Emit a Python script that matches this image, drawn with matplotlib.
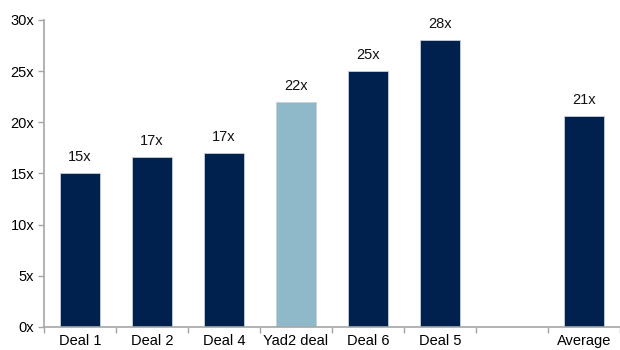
import numpy as np
import matplotlib.pyplot as plt
from matplotlib.ticker import FuncFormatter, MultipleLocator

plt.rcParams['font.family'] = ['Liberation Sans', 'DejaVu Sans']

deals = ['Deal 1', 'Deal 2', 'Deal 4', 'Yad2 deal', 'Deal 6', 'Deal 5', '', 'Average']
multiples = [15.0, 16.6, 17.0, 22.0, 25.0, 28.0, np.nan, 20.6]
highlight = 'Yad2 deal'

navy = '#00204e'
light_blue = '#8fb9c8'
axis_grey = '#a6a6a6'

fig = plt.figure(figsize=(6.2, 3.5), dpi=100)
ax = fig.add_axes([0.071, 0.066, 0.929, 0.877])

x = np.arange(len(deals))
colours = [light_blue if d == highlight else navy for d in deals]
bars = ax.bar(x, multiples, width=0.56, color=colours, edgecolor='#c8cfd8', linewidth=0.6)

for xi, v in zip(x, multiples):
    if np.isnan(v):
        continue
    ax.text(xi, v + 0.9, '{:.0f}x'.format(v), ha='center', va='bottom', fontsize=10.5, color='#111111')

ax.set_xlim(-0.5, len(deals) - 0.5)
ax.set_ylim(0, 30)
ax.yaxis.set_major_locator(MultipleLocator(5))
ax.yaxis.set_major_formatter(FuncFormatter(lambda v, p: '{:.0f}x'.format(v)))

# category labels centred on bars, tick marks on the boundaries
ax.set_xticks(x)
ax.set_xticklabels(deals)
ax.set_xticks(np.arange(len(deals) + 1) - 0.5, minor=True)
ax.tick_params(axis='x', which='major', length=0, pad=5, labelsize=10.5)
ax.tick_params(axis='x', which='minor', length=4, color=axis_grey, width=1)
ax.tick_params(axis='y', length=4, color=axis_grey, width=1, pad=3, labelsize=10.5)

for side in ['top', 'right']:
    ax.spines[side].set_visible(False)
for side in ['left', 'bottom']:
    ax.spines[side].set_color(axis_grey)
    ax.spines[side].set_linewidth(1.2)

fig.savefig('out.png', dpi=100)
